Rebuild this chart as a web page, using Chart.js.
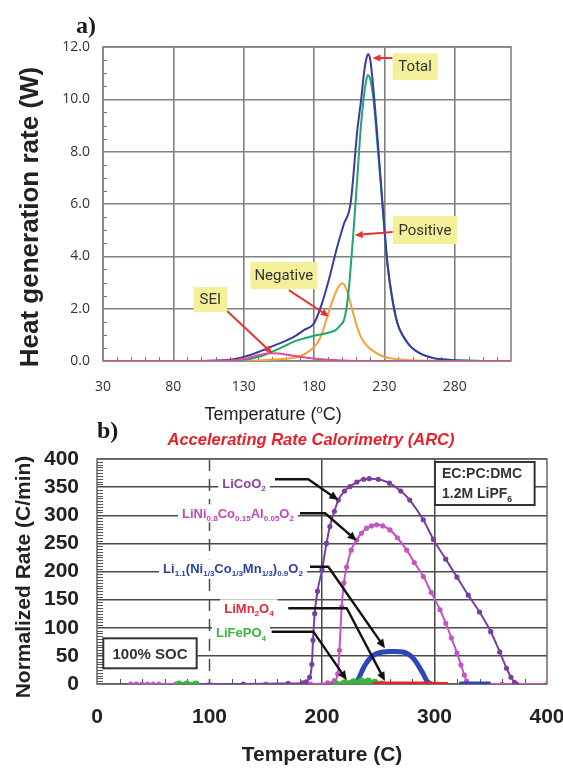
<!DOCTYPE html>
<html>
<head>
<meta charset="utf-8">
<script src="https://cdn.jsdelivr.net/npm/chart.js@4.4.1/dist/chart.umd.min.js"></script>
<style>
  body { margin: 0; background: #fff; }
  #wrap { position: relative; width: 563px; height: 769px; overflow: hidden; }
  canvas { position: absolute; left: 0; }
  #chartA { top: 0; }
  #chartB { top: 415px; }
</style>
</head>
<body>
<div id="wrap">
  <canvas id="chartA" width="563" height="430"></canvas>
  <canvas id="chartB" width="563" height="354"></canvas>
</div>
<script>
// ---------- a) heat generation rate ----------
const tickTempA = [30, 80, 130, 180, 230, 280];
const tickHeatA = [0, 2, 4, 6, 8, 10, 12];

const totalT = [30, 90, 105, 115, 120.5, 128, 134.7, 142, 150, 158.5, 165, 172.8, 180, 185, 190, 196.5, 201, 206, 210.8, 213.5, 215.5, 217, 218.4, 220, 222.7, 225, 227.4, 230, 232.2, 235, 239.3, 244, 248.8, 255, 265, 275, 290, 320];
const totalW = [0, 0, 0.01, 0.03, 0.05, 0.13, 0.23, 0.38, 0.56, 0.74, 0.9, 1.18, 1.44, 2.1, 3.0, 4.37, 5.2, 6.03, 8.83, 10.0, 10.99, 11.5, 11.73, 11.5, 10.1, 8.6, 6.9, 5.1, 3.74, 2.6, 1.44, 0.9, 0.55, 0.3, 0.11, 0.05, 0.01, 0];

const positiveT = [30, 110, 122, 134.7, 142, 149, 157, 165.6, 174, 182.3, 190, 195.4, 198.5, 201.3, 203, 205, 206.5, 208.4, 211, 213.2, 215, 216.7, 218.2, 219.5, 221, 223, 225, 227.4, 230, 232.2, 235, 239.3, 244, 248.8, 255, 265, 275, 290, 320];
const positiveW = [0, 0, 0.02, 0.08, 0.18, 0.32, 0.52, 0.74, 0.88, 0.99, 1.08, 1.18, 1.35, 1.57, 2.0, 2.9, 3.9, 5.2, 7.2, 8.9, 9.9, 10.6, 10.93, 10.85, 10.5, 9.6, 8.3, 6.8, 5.0, 3.65, 2.55, 1.42, 0.88, 0.54, 0.3, 0.11, 0.05, 0.01, 0];

const negativeT = [30, 120, 135, 146.7, 155, 163.3, 170.4, 176, 182.3, 186, 189.4, 194.2, 197.5, 200.1, 203, 206, 209.5, 213.2, 217, 222.7, 228, 234.6, 245, 260, 320];
const negativeW = [0, 0, 0.01, 0.04, 0.07, 0.1, 0.19, 0.36, 0.68, 1.1, 1.69, 2.46, 2.85, 2.97, 2.75, 2.2, 1.5, 0.93, 0.62, 0.36, 0.2, 0.1, 0.04, 0.01, 0];

const seiT = [30, 100, 115, 122.8, 130, 135, 142, 149, 155, 165.6, 175, 182.3, 190, 196.5, 205, 215, 320];
const seiW = [0, 0, 0.01, 0.03, 0.08, 0.14, 0.24, 0.3, 0.29, 0.2, 0.12, 0.08, 0.05, 0.03, 0.01, 0, 0];

// ---------- b) ARC ----------
const tickTempB = [0, 100, 200, 300, 400];
const tickRateB = [0, 50, 100, 150, 200, 250, 300, 350, 400];

const licoT = [86, 130, 170, 183, 186, 189, 191, 192, 193.5, 196, 200, 204, 207, 211, 214.5, 220, 225, 231, 237, 242, 250, 260, 270, 278, 290, 299, 310, 320, 330, 340, 350, 358, 364, 368, 371, 373];
const licoV = [0, 0, 1, 2, 4, 12, 35, 78, 125, 165, 203, 250, 280, 307, 327, 343, 351, 359, 364, 365, 364, 357, 343, 327, 292, 257, 222, 190, 158, 128, 93, 57, 28, 12, 3, 0];

const liniT = [30, 35, 40, 45, 50, 55, 70, 100, 150, 190, 205, 211, 214, 215.5, 217.5, 219.5, 221.9, 226, 230.8, 235, 239.7, 244, 248.6, 254, 260.4, 267, 275.3, 282, 290.1, 297, 304.9, 310, 315, 320, 323.5, 326.5, 328.5, 330, 360, 400];
const liniV = [0, 0, 0, 0, 0, 0, 0, 0, 0, 0, 2, 6, 18, 60, 137, 180, 208, 238, 256, 268, 277, 281, 283, 281, 274, 260, 238, 216, 191, 163, 132, 108, 82, 55, 34, 16, 5, 0, 0, 0];

const nmcT = [225, 230, 232.6, 236.7, 239, 242, 245.6, 250, 254.5, 260, 265, 272, 276, 280, 284, 287, 290, 293, 295, 296.5, 309, 322, 350];
const nmcV = [0, 3, 10, 28, 36, 44, 51, 55, 57, 58, 58, 57, 54, 48, 38, 28, 18, 6, 2, 0, null, 0, 0];

const limnT = [245, 260, 275, 290, 300, 312];
const limnV = [0.5, 1, 1, 1, 0.5, 0];

const lfpT = [73, 80, 88, 150, 213, 220, 228, 235, 241, 247, 253];
const lfpV = [0, 0, 0, null, 0, 2, 4, 5, 5, 3, 0];

function pts(xs, ys) {
    return xs.map((x, i) => ({ x: x, y: ys[i] }));
}

// draws text made of normal / sub / sup pieces, y is the baseline
function drawRich(ctx, parts, x, y, o) {
    const fontOf = (p) => `${o.style || ''} ${o.weight || 'normal'} ${p[1] ? o.size * 0.62 : o.size}px ${o.family}`;
    let total = 0;
    parts.forEach(p => { ctx.font = fontOf(p); total += ctx.measureText(p[0]).width; });
    let cx = o.align === 'center' ? x - total / 2 : (o.align === 'right' ? x - total : x);
    ctx.fillStyle = o.color;
    ctx.textAlign = 'left';
    ctx.textBaseline = 'alphabetic';
    parts.forEach(p => {
        ctx.font = fontOf(p);
        const dy = p[1] === 'sub' ? o.size * 0.28 : (p[1] === 'sup' ? -o.size * 0.4 : 0);
        ctx.fillText(p[0], cx, y + dy);
        cx += ctx.measureText(p[0]).width;
    });
    return total;
}

function arrow(ctx, path, color, width, head) {
    ctx.save();
    ctx.strokeStyle = color;
    ctx.fillStyle = color;
    ctx.lineWidth = width;
    ctx.lineJoin = 'round';
    const n = path.length;
    const [x1, y1] = path[n - 2];
    const [x2, y2] = path[n - 1];
    const a = Math.atan2(y2 - y1, x2 - x1);
    ctx.beginPath();
    ctx.moveTo(path[0][0], path[0][1]);
    for (let i = 1; i < n - 1; i++) ctx.lineTo(path[i][0], path[i][1]);
    ctx.lineTo(x2 - Math.cos(a) * head * 0.8, y2 - Math.sin(a) * head * 0.8);
    ctx.stroke();
    ctx.beginPath();
    ctx.moveTo(x2, y2);
    ctx.lineTo(x2 - head * Math.cos(a) + head * 0.45 * Math.sin(a), y2 - head * Math.sin(a) - head * 0.45 * Math.cos(a));
    ctx.lineTo(x2 - head * Math.cos(a) - head * 0.45 * Math.sin(a), y2 - head * Math.sin(a) + head * 0.45 * Math.cos(a));
    ctx.closePath();
    ctx.fill();
    ctx.restore();
}

// annotation boxes of panel a), in data units
const notesA = [
    { text: 'Total', box: [235.8, 267.9, 11.76, 10.74], path: [[235.8, 11.58], [221.5, 11.58]] },
    { text: 'Positive', box: [236, 281.6, 5.54, 4.47], path: [[236, 4.93], [208.9, 4.81]] },
    { text: 'Negative', box: [134.8, 182.3, 3.78, 2.75], path: [[162.1, 2.71], [190.6, 1.70]] },
    { text: 'SEI', box: [94.4, 118.2, 2.83, 1.87], path: [[118.2, 1.91], [150.3, 0.29]] },
];

const decorA = {
    id: 'decorA',
    beforeDatasetsDraw(chart) {
        const { ctx, chartArea: a, scales: { x, y } } = chart;
        ctx.save();
        ctx.strokeStyle = '#858585';
        ctx.lineWidth = 1.6;
        ctx.strokeRect(a.left, a.top, a.right - a.left, a.bottom - a.top);
        ctx.strokeStyle = '#777';
        ctx.lineWidth = 1;
        ctx.beginPath();
        for (let v = 0.5; v < 12; v += 0.5) {
            if (v % 2 === 0) continue;
            const py = Math.round(y.getPixelForValue(v)) + 0.5;
            ctx.moveTo(a.left, py); ctx.lineTo(a.left + 4, py);
        }
        for (let v = 40; v < 320; v += 10) {
            if ((v - 30) % 50 === 0) continue;
            const px = Math.round(x.getPixelForValue(v)) + 0.5;
            ctx.moveTo(px, a.bottom); ctx.lineTo(px, a.bottom - 4);
        }
        ctx.stroke();
        ctx.restore();
    },
    afterDatasetsDraw(chart) {
        const { ctx, scales: { x, y } } = chart;
        notesA.forEach(n => {
            const path = n.path.map(p => [x.getPixelForValue(p[0]), y.getPixelForValue(p[1])]);
            arrow(ctx, path, '#e8342c', 2, 8);
            const l = x.getPixelForValue(n.box[0]), r = x.getPixelForValue(n.box[1]);
            const t = y.getPixelForValue(n.box[2]), b = y.getPixelForValue(n.box[3]);
            ctx.fillStyle = '#f4f09a';
            ctx.fillRect(l, t, r - l, b - t);
            ctx.fillStyle = '#333';
            ctx.font = '15px Roboto';
            ctx.textAlign = 'center';
            ctx.textBaseline = 'middle';
            ctx.fillText(n.text, (l + r) / 2, (t + b) / 2 + 1);
        });
    },
    afterDraw(chart) {
        const { ctx } = chart;
        ctx.save();
        ctx.fillStyle = '#1a1a1a';
        ctx.font = 'bold 24px "Liberation Serif"';
        ctx.textAlign = 'left';
        ctx.textBaseline = 'alphabetic';
        ctx.fillText('a)', 76, 33);
        ctx.translate(31, 217);
        ctx.rotate(-Math.PI / 2);
        ctx.font = 'bold 26px "Liberation Sans"';
        ctx.fillStyle = '#222';
        ctx.textAlign = 'center';
        ctx.textBaseline = 'middle';
        ctx.fillText('Heat generation rate (W)', 0, 0);
        ctx.restore();
        ctx.save();
        drawRich(ctx, [['Temperature ('], ['o', 'sup'], ['C)']], 273, 420,
            { size: 18, family: '"Liberation Sans"', color: '#222', align: 'center' });
        ctx.restore();
    }
};

new Chart(document.getElementById('chartA'), {
    type: 'line',
    data: {
        datasets: [
            { label: 'SEI', data: pts(seiT, seiW), borderColor: '#e24a94', borderWidth: 2 },
            { label: 'Total', data: pts(totalT, totalW), borderColor: '#3b3ba3', borderWidth: 2 },
            { label: 'Positive', data: pts(positiveT, positiveW), borderColor: '#1fa56e', borderWidth: 2 },
            { label: 'Negative', data: pts(negativeT, negativeW), borderColor: '#f7a035', borderWidth: 2 },
        ],
    },
    options: {
        responsive: false,
        animation: false,
        elements: { point: { radius: 0 }, line: { cubicInterpolationMode: 'monotone' } },
        layout: { padding: { left: 0, right: 52, top: 47, bottom: 0 } },
        plugins: { legend: { display: false }, tooltip: { enabled: false } },
        scales: {
            x: {
                type: 'linear',
                min: 30,
                max: 320,
                afterBuildTicks: s => { s.ticks = tickTempA.map(v => ({ value: v })); },
                afterFit: s => { s.height = 69; },
                grid: { color: '#808080', lineWidth: 1.6, drawTicks: false },
                border: { display: false },
                ticks: { padding: 18, color: '#333', autoSkip: false, maxRotation: 0, font: { family: 'Open Sans', size: 14 } },
            },
            y: {
                min: 0,
                max: 12,
                afterBuildTicks: s => { s.ticks = tickHeatA.map(v => ({ value: v })); },
                afterFit: s => { s.width = 103; },
                grid: { color: '#808080', lineWidth: 1.6, drawTicks: false },
                border: { display: false },
                ticks: { padding: 13, color: '#333', autoSkip: false, font: { family: 'Open Sans', size: 14 }, callback: v => v.toFixed(1) },
            },
        },
    },
    plugins: [decorA],
});

// labels of panel b), anchors in data units
const labelsB = [
    { parts: [['LiCoO'], ['2', 'sub']], color: '#8e3fa6', at: [130.7, 357.3], path: [[158.2, 363.9], [187.8, 363.9], [214.5, 327.1]] },
    { parts: [['LiNi'], ['0.8', 'sub'], ['Co'], ['0.15', 'sub'], ['Al'], ['0.05', 'sub'], ['O'], ['2', 'sub']], color: '#c048b8', at: [125.3, 303.5], path: [[180.4, 303.5], [202.7, 303.5], [230.8, 254.8]] },
    { parts: [['Li'], ['1.1', 'sub'], ['(Ni'], ['1/3', 'sub'], ['Co'], ['1/3', 'sub'], ['Mn'], ['1/3', 'sub'], [')'], ['0.9', 'sub'], ['O'], ['2', 'sub']], color: '#2c3ea8', at: [120.9, 205.7], path: [[189.3, 208.5], [205.6, 208.5], [256, 63.5]] },
    { parts: [['LiMn'], ['2', 'sub'], ['O'], ['4', 'sub']], color: '#e8283a', at: [135.1, 134.6], path: [[170, 134.6], [222, 134.6], [256, 5.3]] },
    { parts: [['LiFePO'], ['4', 'sub']], color: '#3cb43c', at: [128, 91.6], path: [[155.3, 93], [192.3, 93], [222, 7]] },
];

function boxB(ctx, l, t, r, b) {
    ctx.fillStyle = '#fff';
    ctx.fillRect(l, t, r - l, b - t);
    ctx.strokeStyle = '#333';
    ctx.lineWidth = 2;
    ctx.strokeRect(l, t, r - l, b - t);
}

const decorB = {
    id: 'decorB',
    beforeDatasetsDraw(chart) {
        const { ctx, chartArea: a, scales: { x, y } } = chart;
        ctx.save();
        // dashed grid line at 100
        ctx.strokeStyle = '#4a4a4a';
        ctx.lineWidth = 1.5;
        ctx.setLineDash([12, 8]);
        const p100 = x.getPixelForValue(100);
        ctx.beginPath(); ctx.moveTo(p100, a.top); ctx.lineTo(p100, a.bottom); ctx.stroke();
        ctx.setLineDash([]);
        ctx.strokeStyle = '#666';
        ctx.strokeRect(a.left, a.top, a.right - a.left, a.bottom - a.top);
        ctx.lineWidth = 1;
        ctx.strokeStyle = '#555';
        ctx.beginPath();
        for (let v = 5; v < 400; v += 5) {
            if (v % 50 === 0) continue;
            const py = Math.round(y.getPixelForValue(v)) + 0.5;
            ctx.moveTo(a.left, py); ctx.lineTo(a.left + 6, py);
        }
        for (let v = 20; v < 400; v += 20) {
            if (v % 100 === 0) continue;
            const px = Math.round(x.getPixelForValue(v)) + 0.5;
            ctx.moveTo(px, a.bottom); ctx.lineTo(px, a.bottom - 5);
        }
        ctx.stroke();
        // compound labels on white ground
        labelsB.forEach(l => {
            const cx = x.getPixelForValue(l.at[0]), cy = y.getPixelForValue(l.at[1]);
            let w = 0;
            l.parts.forEach(p => { ctx.font = `bold ${p[1] ? 13 * 0.62 : 13}px "Liberation Sans"`; w += ctx.measureText(p[0]).width; });
            ctx.fillStyle = '#fff';
            ctx.fillRect(cx - w / 2 - 4, cy - 9, w + 8, 18);
            drawRich(ctx, l.parts, cx, cy + 4.5, { size: 13, weight: 'bold', family: '"Liberation Sans"', color: l.color, align: 'center' });
        });
        ctx.restore();
    },
    afterDatasetsDraw(chart) {
        const { ctx, scales: { x, y } } = chart;
        ctx.save();
        labelsB.forEach(l => {
            const path = l.path.map(p => [x.getPixelForValue(p[0]), y.getPixelForValue(p[1])]);
            arrow(ctx, path, '#111', 2.4, 9);
        });
        // EC:PC:DMC box
        let l = x.getPixelForValue(300.4), r = x.getPixelForValue(389), t = y.getPixelForValue(394.7), b = y.getPixelForValue(318.2);
        boxB(ctx, l, t, r, b);
        drawRich(ctx, [['EC:PC:DMC']], l + 7, y.getPixelForValue(366), { size: 14, weight: 'bold', family: '"Liberation Sans"', color: '#333' });
        drawRich(ctx, [['1.2M LiPF'], ['6', 'sub']], l + 7, y.getPixelForValue(330), { size: 14, weight: 'bold', family: '"Liberation Sans"', color: '#333' });
        // 100% SOC box
        l = x.getPixelForValue(5.6); r = x.getPixelForValue(88.6); t = y.getPixelForValue(81.2); b = y.getPixelForValue(27.9);
        boxB(ctx, l, t, r, b);
        drawRich(ctx, [['100% SOC']], (l + r) / 2, (t + b) / 2 + 5.5, { size: 15, weight: 'bold', family: '"Liberation Sans"', color: '#333', align: 'center' });
        ctx.restore();
    },
    afterDraw(chart) {
        const { ctx, chartArea: a } = chart;
        ctx.save();
        ctx.fillStyle = '#1a1a1a';
        ctx.font = 'bold 24px "Liberation Serif"';
        ctx.textAlign = 'left';
        ctx.textBaseline = 'alphabetic';
        ctx.fillText('b)', 97, 23);
        ctx.fillStyle = '#e8202a';
        ctx.font = 'italic bold 16.5px "Liberation Sans"';
        ctx.textAlign = 'center';
        ctx.textBaseline = 'middle';
        ctx.fillText('Accelerating Rate Calorimetry (ARC)', 311, 25);
        ctx.fillStyle = '#222';
        ctx.font = 'bold 21px "Liberation Sans"';
        ctx.fillText('Temperature (C)', (a.left + a.right) / 2, 340);
        ctx.translate(24, 162);
        ctx.rotate(-Math.PI / 2);
        ctx.fillText('Normalized Rate (C/min)', 0, 0);
        ctx.restore();
    }
};

new Chart(document.getElementById('chartB'), {
    type: 'line',
    data: {
        datasets: [
            { label: 'LiMn2O4', data: pts(limnT, limnV), borderColor: '#e8242c', borderWidth: 4, pointRadius: 0 },
            { label: 'LiFePO4', data: pts(lfpT, lfpV), borderColor: '#3cb43c', backgroundColor: '#3cb43c', borderWidth: 4, pointRadius: 1.6 },
            { label: 'Li1.1(NMC)0.9O2', data: pts(nmcT, nmcV), borderColor: '#2a48b8', borderWidth: 5, pointRadius: 0 },
            { label: 'LiCoO2', data: pts(licoT, licoV), borderColor: '#7a3fa0', backgroundColor: '#7a3fa0', borderWidth: 2, pointRadius: 1.6 },
            { label: 'LiNi0.8Co0.15Al0.05O2', data: pts(liniT, liniV), borderColor: '#c455c4', backgroundColor: '#c455c4', borderWidth: 2, pointRadius: 1.6 },
        ],
    },
    options: {
        responsive: false,
        animation: false,
        elements: { line: { cubicInterpolationMode: 'monotone' }, point: { borderWidth: 0 } },
        layout: { padding: { left: 0, right: 16, top: 44, bottom: 0 } },
        plugins: { legend: { display: false }, tooltip: { enabled: false } },
        scales: {
            x: {
                type: 'linear',
                min: 0,
                max: 400,
                afterBuildTicks: s => { s.ticks = tickTempB.map(v => ({ value: v })); },
                afterFit: s => { s.height = 85; s.paddingRight = 0; s.paddingLeft = 0; },
                grid: { color: c => (c.tick.value === 100 || c.tick.value === 0 || c.tick.value === 400) ? 'rgba(0,0,0,0)' : '#4a4a4a', lineWidth: 1.5, drawTicks: false },
                border: { display: false },
                ticks: { padding: 21, color: '#222', autoSkip: false, maxRotation: 0, font: { family: 'Liberation Sans', size: 21, weight: 'bold' } },
            },
            y: {
                min: 0,
                max: 400,
                afterBuildTicks: s => { s.ticks = tickRateB.map(v => ({ value: v })); },
                afterFit: s => { s.width = 97; s.paddingTop = 0; s.paddingBottom = 0; },
                grid: { color: '#4a4a4a', lineWidth: 1.5, drawTicks: false },
                border: { display: false },
                ticks: { padding: 18, color: '#222', autoSkip: false, font: { family: 'Liberation Sans', size: 21, weight: 'bold' } },
            },
        },
    },
    plugins: [decorB],
});
</script>
</body>
</html>
